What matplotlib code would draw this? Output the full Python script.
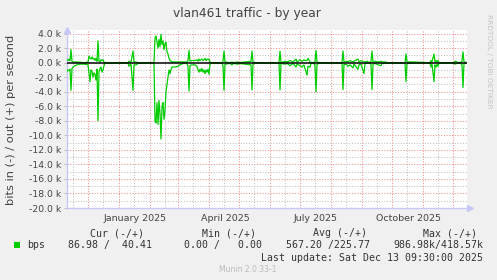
import matplotlib
matplotlib.use("Agg")
import matplotlib.pyplot as plt
import matplotlib.patches as mpatches
import matplotlib.dates as mdates
import pandas as pd
from matplotlib.ticker import FixedLocator, FuncFormatter, NullLocator

# ---------------- data ----------------
title = "vlan461 traffic - by year"
ylabel = "bits in (-) / out (+) per second"
ref_date = "2024-12-01"
x_start = "2024-11-10"
x_end = "2025-12-15"

day_offset = [-21, -20, -19, -18, -17, -16, -15, -13, -11, -8, -3, 0, 1, 2, 3, 4, 5, 6, 7, 8, 9, 10,
              11, 12, 13, 14, 15, 16, 17, 32, 40, 41, 42, 43, 45, 46, 48, 50, 66, 67, 68, 69, 70, 71,
              72, 73, 74, 75, 76, 77, 78, 79, 80, 81, 82, 83, 84, 87, 90, 92, 95, 99, 100, 101, 102,
              104, 107, 109, 110, 111, 112, 113, 114, 115, 116, 117, 118, 119, 120, 121, 122, 123,
              134, 135, 136, 137, 142, 144, 145, 150, 151, 163, 164, 165, 167, 191, 192, 193, 197,
              199, 202, 205, 208, 209, 212, 214, 216, 217, 219, 220, 222, 223, 226, 227, 228, 229,
              232, 254, 255, 256, 259, 260, 262, 265, 266, 270, 271, 273, 276, 277, 279, 282, 283,
              284, 285, 287, 290, 293, 294, 297, 300, 317, 318, 319, 322, 325, 342, 343, 344, 346,
              347, 348, 349, 350, 351, 366, 367, 369, 372, 374, 375, 376, 378]

out_k = [0.4, 0.3, 0.5, 0.3, 1.8, 0.2, 0.1, 0.1, 0.1, 0.05, 0.0, 0.1, 0.9, 0.6, 0.5, 0.8, 0.5, 0.6,
         0.3, 0.6, 0.2, 3.0, 0.2, 0.1, 0.4, 0.3, 0.4, 0.1, 0.0, 0.0, 0.0, 0.2, 0.15, 0.1, 1.6, 0.1,
         0.1, 0.0, 0.0, 3.4, 3.7, 2.8, 2.0, 3.2, 2.2, 3.9, 2.5, 3.0, 1.8, 2.6, 2.8, 1.5, 1.2, 0.6,
         0.3, 0.2, 0.1, 0.1, 0.1, 0.1, 0.1, 0.1, 0.3, 1.7, 0.2, 0.3, 0.3, 0.4, 0.2, 0.5, 0.3, 0.4,
         0.5, 0.3, 0.4, 0.6, 0.3, 0.5, 0.4, 0.5, 0.1, 0.0, 0.0, 0.2, 1.6, 0.1, 0.0, 0.1, 0.0, 0.1,
         0.0, 0.2, 1.6, 0.1, 0.0, 0.0, 1.6, 0.0, 0.2, 0.1, 0.3, 0.1, 0.5, 0.1, 0.4, 0.2, 0.4, 0.3,
         0.3, 0.6, 0.1, 0.0, 0.0, 0.2, 1.7, 0.1, 0.0, 0.0, 1.6, 0.1, 0.2, 0.1, 0.3, 0.1, 0.2, 0.5,
         0.1, 0.3, 0.1, 0.1, 0.2, 0.0, 0.2, 1.6, 0.1, 0.2, 0.1, 0.2, 0.1, 0.1, 0.0, 0.0, 1.2, 0.1,
         0.1, 0.1, 0.0, 0.3, 0.1, 1.2, 0.1, 0.3, 0.1, 0.3, 0.0, 0.0, 0.2, 0.1, 0.0, 0.2, 1.5, 0.1,
         0.05]

in_k = [1.2, 1.0, 1.1, 0.9, 3.8, 0.8, 0.6, 0.4, 0.3, 0.2, 0.2, 0.3, 1.5, 2.6, 1.0, 1.2, 2.0, 1.4,
        1.6, 2.4, 0.9, 8.0, 1.2, 0.8, 0.6, 1.3, 1.0, 0.4, 0.05, 0.05, 0.05, 0.5, 0.3, 0.2, 3.8,
        0.3, 0.3, 0.1, 0.0, 8.0, 8.3, 5.5, 8.5, 5.2, 7.0, 10.5, 6.0, 5.5, 7.8, 6.5, 4.0, 3.0, 2.0,
        1.0, 1.5, 0.9, 0.6, 0.6, 0.5, 0.3, 0.1, 0.1, 0.5, 3.9, 0.4, 0.3, 0.3, 0.5, 1.0, 1.3, 0.9,
        1.2, 0.8, 1.3, 1.0, 1.5, 1.0, 1.3, 0.9, 1.6, 0.2, 0.1, 0.1, 0.4, 3.8, 0.2, 0.1, 0.3, 0.1,
        0.2, 0.1, 0.3, 3.75, 0.2, 0.05, 0.05, 3.75, 0.1, 0.2, 0.1, 0.4, 0.1, 0.6, 0.2, 0.4, 0.6,
        0.3, 0.8, 1.7, 0.5, 0.6, 0.1, 0.1, 0.4, 4.0, 0.2, 0.05, 0.05, 3.7, 0.2, 0.3, 0.5, 0.3,
        0.7, 0.2, 0.9, 0.3, 0.2, 1.5, 0.1, 0.1, 0.05, 0.3, 3.7, 0.2, 0.1, 0.3, 0.4, 0.1, 0.1,
        0.05, 0.05, 2.6, 0.1, 0.1, 0.05, 0.05, 0.6, 0.2, 2.6, 0.3, 0.6, 0.2, 0.5, 0.05, 0.05, 0.2,
        0.1, 0.05, 0.3, 3.4, 0.1, 0.05]

x_tick_labels = ["January 2025", "April 2025", "July 2025", "October 2025"]
x_tick_dates = ["2025-01-17", "2025-04-17", "2025-07-17", "2025-10-17"]
y_major_k = list(range(-20, 5, 2))
y_minor_k = list(range(-19, 5, 2))
ylim_k = (-20, 4.5)

legend_headers = ["Cur (-/+)", "Min (-/+)", "Avg (-/+)", "Max (-/+)"]
legend_values = ["86.98 /  40.41", "0.00 /   0.00", "567.20 /225.77", "986.98k/418.57k"]
series_name = "bps"
last_update = "Last update: Sat Dec 13 09:30:00 2025"
footer = "Munin 2.0.33-1"
side_text = "RRDTOOL / TOBI OETIKER"

# ---------------- figure ----------------
W, H = 497, 280
fig = plt.figure(figsize=(W / 100, H / 100), dpi=100, facecolor="#F0F0F0")


def fx(x):
    return x / W


def fy(y):
    return 1 - y / H


ax = fig.add_axes([fx(67), fy(208), fx(467) - fx(67), fy(30) - fy(208)])
ax.set_facecolor("white")

t0 = pd.Timestamp(ref_date)
dates = t0 + pd.to_timedelta(day_offset, unit="D")
xmin, xmax = pd.Timestamp(x_start), pd.Timestamp(x_end)
ax.set_xlim(xmin, xmax)
ax.set_ylim(*ylim_k)

# grid
grid_red = "#EE9090"
grid_gray = "#C0C0C0"
dot = (0, (1, 1.6))
for v in y_minor_k:
    ax.axhline(v, color=grid_gray, lw=0.75, ls=dot, zorder=1)
for v in y_major_k:
    if v != 0:
        ax.axhline(v, color=grid_red, lw=0.75, ls=dot, zorder=1)
months = pd.date_range("2024-11-01", "2025-12-31", freq="MS")
for m in months:
    mid = m + pd.Timedelta(days=15)
    if xmin < mid < xmax:
        ax.axvline(mid, color=grid_gray, lw=0.75, ls=dot, zorder=1)
    if xmin < m < xmax:
        ax.axvline(m, color=grid_red, lw=0.75, ls=dot, zorder=1)

# series
green = "#00CC00"
ax.plot(dates, out_k, color=green, lw=0.9, zorder=3)
ax.plot(dates, [-v for v in in_k], color=green, lw=0.9, zorder=3)
ax.axhline(0, color="black", lw=1.1, zorder=4)

# axes styling
axis_col = "#C8C8F8"
for s in ["top", "right"]:
    ax.spines[s].set_visible(False)
for s in ["left", "bottom"]:
    ax.spines[s].set_color(axis_col)
    ax.spines[s].set_linewidth(1.0)
ax.plot([0], [1.0], marker="^", color=axis_col, ms=4, transform=ax.transAxes, clip_on=False, zorder=5)
ax.plot([1.008], [0.0], marker=">", color=axis_col, ms=4, transform=ax.transAxes, clip_on=False, zorder=5)

ax.yaxis.set_major_locator(FixedLocator(y_major_k))
ax.yaxis.set_minor_locator(NullLocator())
ax.yaxis.set_major_formatter(FuncFormatter(lambda v, p: f"{v:.1f} k"))
ax.tick_params(axis="y", length=2, width=0.6, color="#B0B0B0", pad=2, labelsize=6.7, labelcolor="#444444")

ax.xaxis.set_major_locator(FixedLocator([mdates.date2num(d) for d in pd.to_datetime(x_tick_dates)]))
ax.xaxis.set_minor_locator(NullLocator())
ax.set_xticklabels(x_tick_labels)
ax.tick_params(axis="x", length=0, pad=4, labelsize=6.8, labelcolor="#444444")

# texts
fig.text(fx(247), fy(13), title, ha="center", va="center", fontsize=8.8, color="#444444")
fig.text(fx(10.7), fy(120), ylabel, ha="center", va="center", rotation=90, fontsize=8.2, color="#444444")
fig.text(fx(489), fy(61), side_text, ha="center", va="center", rotation=270, fontsize=5.3, color="#C4C4C4")

mono = "DejaVu Sans Mono"
lfs = 7.1
lcol = "#333333"
header_x = [90, 201.7, 313.3, 423.3]
value_x = [152.3, 261.7, 370, 483]
for hx, htxt in zip(header_x, legend_headers):
    fig.text(fx(hx), fy(233.3), htxt, ha="left", va="center", family=mono, fontsize=lfs, color=lcol)
for vx, vtxt in zip(value_x, legend_values):
    fig.text(fx(vx), fy(245), vtxt, ha="right", va="center", family=mono, fontsize=lfs, color=lcol)
fig.patches.append(mpatches.Rectangle((fx(14), fy(247.5)), fx(6), 6 / H, transform=fig.transFigure,
                                      facecolor=green, edgecolor=green, lw=0))
fig.text(fx(27), fy(245), series_name, ha="left", va="center", family=mono, fontsize=lfs, color=lcol)
fig.text(fx(483), fy(257.7), last_update, ha="right", va="center", family=mono, fontsize=lfs, color=lcol)
fig.text(fx(248), fy(269.3), footer, ha="center", va="center", fontsize=5.5, color="#BBBBBB")

fig.savefig("out.png", dpi=100, facecolor=fig.get_facecolor())
